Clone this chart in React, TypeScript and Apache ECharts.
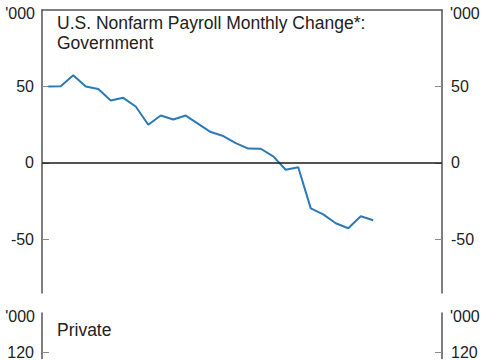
import React, { useEffect, useRef } from "react";
import * as echarts from "echarts";

const categories = [
  "1", "2", "3", "4", "5", "6", "7", "8", "9", "10", "11", "12", "13", "14", "15", "16",
  "17", "18", "19", "20", "21", "22", "23", "24", "25", "26", "27", "28", "29", "30", "31", "32",
];
const governmentValues = [
  50, 50.2, 57.4, 50, 48.3, 40.8, 42.6, 36.9, 25, 31, 28.4, 31, 25.6, 20.2, 17.6, 13, 9.4,
  9.3, 4.3, -4.4, -2.8, -29.7, -33.6, -39.4, -42.7, -34.8, -37.4,
];
const govTicks = [50, 0, -50];
const privateTicks = [120];
const unitLabel = "'000";
const govTitle = "U.S. Nonfarm Payroll Monthly Change*:\nGovernment";
const privateTitle = "Private";

const FONT = "'Liberation Sans', Arial, sans-serif";
const AXIS = "#555555";
const TEXT = "#222222";

function yAxisFor(gridIndex: number, position: "left" | "right", min: number, max: number, ticks: number[]) {
  const left = position === "left";
  return {
    type: "value",
    gridIndex,
    position,
    min,
    max,
    name: unitLabel,
    nameLocation: "end",
    nameGap: -3,
    nameTextStyle: {
      fontFamily: FONT,
      fontSize: 16,
      color: TEXT,
      align: left ? "right" : "left",
      verticalAlign: "middle",
      padding: left ? [0, 7, 0, 0] : [0, 0, 0, 8],
    },
    axisLine: { show: true, lineStyle: { color: AXIS, width: 1.5 } },
    axisTick: {
      show: true,
      inside: true,
      length: 7,
      customValues: ticks,
      lineStyle: { color: "#888888", width: 1 },
    },
    axisLabel: {
      show: true,
      margin: left ? 8 : 9,
      fontFamily: FONT,
      fontSize: 16,
      color: TEXT,
      customValues: ticks,
    },
    splitLine: { show: false },
  };
}

export default function App() {
  const ref = useRef<HTMLDivElement>(null);
  useEffect(() => {
    if (!ref.current) return;
    const chart = echarts.init(ref.current, undefined, { renderer: "svg" });
    chart.setOption({
      animation: false,
      backgroundColor: "#ffffff",
      title: [
        {
          text: govTitle,
          left: 57,
          top: 13,
          textStyle: { fontFamily: FONT, fontSize: 17.5, lineHeight: 20, fontWeight: "normal", color: TEXT },
          padding: 0,
        },
        {
          text: privateTitle,
          left: 57,
          top: 320,
          textStyle: { fontFamily: FONT, fontSize: 17.5, lineHeight: 20, fontWeight: "normal", color: TEXT },
          padding: 0,
        },
      ],
      grid: [
        { left: 42, right: 43, top: 10, height: 283 },
        { left: 42, right: 43, top: 313, height: 50 },
      ],
      xAxis: [
        {
          type: "category",
          gridIndex: 0,
          data: categories,
          position: "top",
          boundaryGap: true,
          axisLine: { show: true, onZero: false, lineStyle: { color: AXIS, width: 1.5 } },
          axisTick: { show: false },
          axisLabel: { show: false },
          splitLine: { show: false },
        },
        {
          type: "category",
          gridIndex: 1,
          data: categories,
          boundaryGap: true,
          axisLine: { show: false },
          axisTick: { show: false },
          axisLabel: { show: false },
          splitLine: { show: false },
        },
      ],
      yAxis: [
        yAxisFor(0, "left", -85, 100, govTicks),
        yAxisFor(0, "right", -85, 100, govTicks),
        yAxisFor(1, "left", 115, 150, privateTicks),
        yAxisFor(1, "right", 115, 150, privateTicks),
      ],
      series: [
        {
          type: "line",
          name: "Government",
          xAxisIndex: 0,
          yAxisIndex: 0,
          data: governmentValues,
          symbol: "none",
          lineStyle: { color: "#2a7ab8", width: 2 },
          itemStyle: { color: "#2a7ab8" },
          markLine: {
            silent: true,
            symbol: "none",
            label: { show: false },
            lineStyle: { color: "#1a1a1a", width: 1.5, type: "solid" },
            data: [{ yAxis: 0 }],
          },
          z: 3,
        },
      ],
    });
    return () => chart.dispose();
  }, []);
  return (
    <div
      ref={ref}
      style={{ position: "absolute", left: 0, top: 0, width: 485, height: 360 }}
    />
  );
}
